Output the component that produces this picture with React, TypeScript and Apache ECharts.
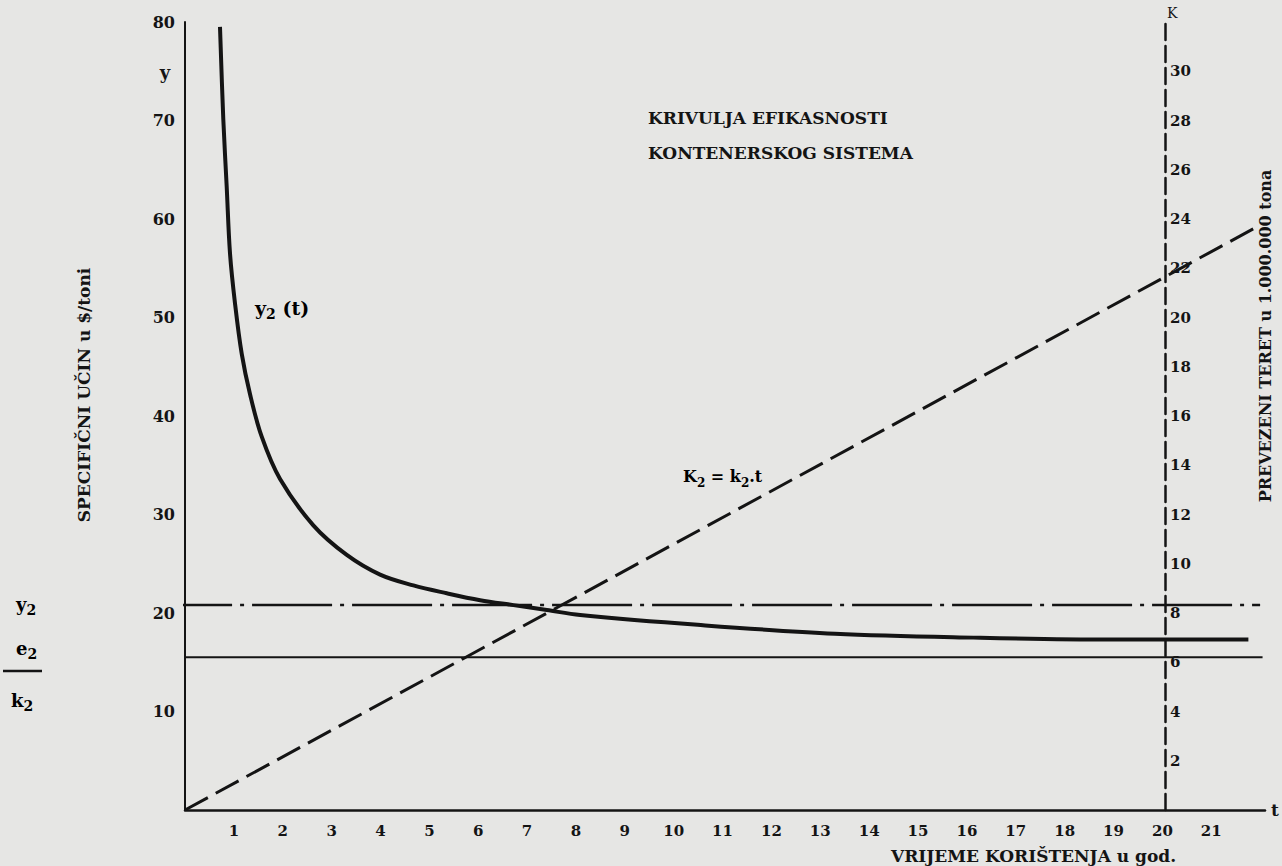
import React, { useEffect, useRef } from "react";
import * as echarts from "echarts";

// ---- data ----
// y2(t): specific output curve, t in years, y in $/ton
const curveYears = [0.716, 0.784, 0.854, 0.921, 1.024, 1.161, 1.331, 1.57, 1.945, 2.626, 3.31, 3.992, 4.674, 5.357, 6.039, 6.72, 7.404, 8.086, 10.49, 13.3, 16.13, 18.94, 21.76];
const curveValues = [79.5, 70.1, 63.2, 56.5, 51.4, 46.3, 42.2, 37.9, 33.6, 28.9, 25.9, 23.9, 22.8, 22.0, 21.3, 20.8, 20.3, 19.8, 18.8, 17.9, 17.5, 17.3, 17.3];

// K2 = k2 * t  (cargo in millions of tons, right axis)
const cargoYears = [0, 21.86];
const cargoValues = [0, 23.6];

// horizontal reference levels
const y2Level = 20.8;
const e2k2Level = 15.5;
const y2LineYears = [-2.72, 22.0];
const e2k2LineYears = [-2.66, 22.05];

// axis tick labels
const yearTicks = [1, 2, 3, 4, 5, 6, 7, 8, 9, 10, 11, 12, 13, 14, 15, 16, 17, 18, 19, 20, 21];
const yTicks = [10, 20, 30, 40, 50, 60, 70, 80];
const kTicks = [2, 4, 6, 8, 10, 12, 14, 16, 18, 20, 22, 24, 26, 28, 30];

const SERIF = "'DejaVu Serif', 'Liberation Serif', serif";
const INK = "#141414";
const PAPER = "#e6e6e4";

export default function App() {
  const ref = useRef<HTMLDivElement>(null);

  useEffect(() => {
    if (!ref.current) return;
    const chart = echarts.init(ref.current, undefined, { renderer: "svg" });

    const sub = (fs: number) => ({
      fontFamily: SERIF,
      fontWeight: "bold" as const,
      fontSize: fs,
      color: INK,
      lineHeight: 14,
      verticalAlign: "bottom" as const,
    });
    const main = (fs: number, weight: any = "bold") => ({
      fontFamily: SERIF,
      fontWeight: weight,
      fontSize: fs,
      color: INK,
      lineHeight: 26,
    });

    const option: any = {
      animation: false,
      backgroundColor: PAPER,
      grid: { left: 185, right: 17, top: 22, bottom: 56, containLabel: false },
      xAxis: {
        type: "value",
        min: 0,
        max: 22.1,
        interval: 1,
        name: "t",
        nameLocation: "end",
        nameGap: 6,
        nameTextStyle: { fontFamily: SERIF, fontWeight: "bold", fontSize: 17, color: INK, verticalAlign: "middle", padding: [0, 0, 12, 0] },
        axisLine: { show: true, onZero: false, lineStyle: { color: INK, width: 2.5 } },
        axisTick: { show: false },
        splitLine: { show: false },
        axisLabel: {
          margin: 13,
          showMaxLabel: false,
          fontFamily: SERIF,
          fontWeight: "bold",
          fontSize: 15,
          color: INK,
          formatter: (v: number) => (yearTicks.indexOf(v) >= 0 ? String(v) : ""),
        },
      },
      yAxis: [
        {
          type: "value",
          min: 0,
          max: 80,
          interval: 10,
          position: "left",
          axisLine: { show: true, onZero: false, lineStyle: { color: INK, width: 2 } },
          axisTick: { show: false },
          splitLine: { show: false },
          axisLabel: {
            margin: 10,
            fontFamily: SERIF,
            fontWeight: "bold",
            fontSize: 16,
            color: INK,
            formatter: (v: number) => (yTicks.indexOf(v) >= 0 ? String(v) : ""),
          },
        },
        {
          type: "value",
          min: 0,
          max: 32,
          interval: 2,
          position: "right",
          offset: -100,
          name: "K",
          nameLocation: "end",
          nameGap: 2,
          nameTextStyle: { fontFamily: SERIF, fontSize: 14, color: INK, align: "left", padding: [0, 0, 0, 2] },
          axisLine: { show: true, onZero: false, lineStyle: { color: INK, width: 2.5, type: [16, 6] } },
          axisTick: { show: false },
          splitLine: { show: false },
          axisLabel: {
            margin: 5,
            padding: [10, 0, 0, 0],
            fontFamily: SERIF,
            fontWeight: "bold",
            fontSize: 15,
            color: INK,
            formatter: (v: number) => (kTicks.indexOf(v) >= 0 ? String(v) : ""),
          },
        },
      ],
      series: [
        {
          name: "y2(t)",
          type: "line",
          data: curveYears.map((t, i) => [t, curveValues[i]]),
          smooth: 0.35,
          symbol: "none",
          lineStyle: { color: INK, width: 4 },
          z: 5,
        },
        {
          name: "K2",
          type: "line",
          yAxisIndex: 1,
          data: cargoYears.map((t, i) => [t, cargoValues[i]]),
          symbol: "none",
          lineStyle: { color: INK, width: 3, type: [26, 9] },
        },
        {
          name: "y2",
          type: "line",
          clip: false,
          data: y2LineYears.map((t) => [t, y2Level]),
          symbol: "none",
          lineStyle: { color: INK, width: 2.5, type: [80, 8, 4, 8] },
        },
        {
          name: "e2/k2",
          type: "line",
          clip: false,
          data: e2k2LineYears.map((t) => [t, e2k2Level]),
          symbol: "none",
          lineStyle: { color: INK, width: 2 },
        },
      ],
      graphic: [
        { type: "text", x: 648, y: 118, style: { text: "KRIVULJA EFIKASNOSTI", font: `bold 17px ${SERIF}`, fill: INK, verticalAlign: "middle", align: "left" } },
        { type: "text", x: 648, y: 153, style: { text: "KONTENERSKOG SISTEMA", font: `bold 17px ${SERIF}`, fill: INK, verticalAlign: "middle", align: "left" } },
        { type: "text", x: 165, y: 72, style: { text: "y", font: `bold 18px ${SERIF}`, fill: INK, align: "center", verticalAlign: "middle" } },
        {
          type: "text",
          x: 84,
          y: 395,
          rotation: Math.PI / 2,
          style: { text: "SPECIFIČNI UČIN u $/toni", font: `bold 17px ${SERIF}`, fill: INK, align: "center", verticalAlign: "middle" },
        },
        {
          type: "text",
          x: 1265,
          y: 336,
          rotation: Math.PI / 2,
          style: { text: "PREVEZENI TERET u 1.000.000 tona", font: `bold 16px ${SERIF}`, fill: INK, align: "center", verticalAlign: "middle" },
        },
        { type: "text", x: 891, y: 856, style: { text: "VRIJEME KORIŠTENJA u god.", font: `bold 17px ${SERIF}`, fill: INK, align: "left", verticalAlign: "middle" } },
        {
          type: "text",
          x: 255,
          y: 308,
          style: {
            text: "{b|y}{s|2}{b| (t)}",
            align: "left",
            verticalAlign: "middle",
            rich: { b: main(19), s: sub(14) },
          },
        },
        {
          type: "text",
          x: 683,
          y: 476,
          style: {
            text: "{b|K}{s|2}{b| = k}{s|2}{b|.t}",
            align: "left",
            verticalAlign: "middle",
            rich: { b: main(16), s: sub(12) },
          },
        },
        {
          type: "text",
          x: 16,
          y: 604,
          style: { text: "{b|y}{s|2}", align: "left", verticalAlign: "middle", rich: { b: main(18), s: sub(14) } },
        },
        {
          type: "text",
          x: 16,
          y: 648,
          style: { text: "{b|e}{s|2}", align: "left", verticalAlign: "middle", rich: { b: main(18), s: sub(14) } },
        },
        { type: "line", shape: { x1: 3, y1: 671, x2: 42, y2: 671 }, style: { stroke: INK, lineWidth: 2.5 } },
        {
          type: "text",
          x: 11,
          y: 700,
          style: { text: "{b|k}{s|2}", align: "left", verticalAlign: "middle", rich: { b: main(18), s: sub(14) } },
        },
      ],
    };

    chart.setOption(option);
    return () => chart.dispose();
  }, []);

  return (
    <div
      ref={ref}
      style={{ position: "absolute", left: 0, top: 0, width: 1282, height: 866 }}
    />
  );
}
